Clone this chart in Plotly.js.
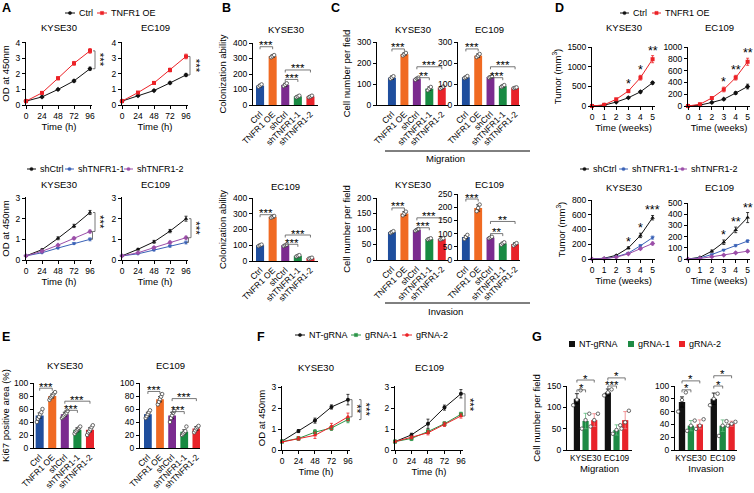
<!DOCTYPE html>
<html><head><meta charset="utf-8">
<script src="https://cdn.plot.ly/plotly-3.0.1.min.js"></script>
<style>html,body{margin:0;padding:0;background:#fff}#chart{width:754px;height:493px}</style>
</head><body><div id="chart"></div>
<script>
// ---------------- DATA ----------------
const hours=[0,24,48,72,96];
const weeks=[0,1,2,3,4,5];
const groups=['Ctrl','TNFR1 OE','shCtrl','shTNFR1-1','shTNFR1-2'];
const cells=['KYSE30','EC109'];

// A: OD at 450nm
const aK_ctrl=[0.25,0.52,1.0,1.55,2.33], aK_ctrl_err=[0.03,0.05,0.05,0.08,0.1];
const aK_oe=[0.25,0.78,1.72,2.68,3.48], aK_oe_err=[0.03,0.07,0.1,0.12,0.15];
const aE_ctrl=[0.25,0.6,0.93,1.42,1.93], aE_ctrl_err=[0.03,0.05,0.05,0.07,0.1];
const aE_oe=[0.25,0.8,1.42,2.25,3.12], aE_oe_err=[0.03,0.06,0.08,0.12,0.15];
const aK_sh=[0.2,0.5,1.05,1.65,2.3], aK_sh_err=[0.02,0.04,0.07,0.08,0.1];
const aK_sh1=[0.2,0.35,0.58,0.8,1.0], aK_sh1_err=[0.02,0.03,0.04,0.05,0.07];
const aK_sh2=[0.2,0.42,0.72,1.05,1.38], aK_sh2_err=[0.02,0.03,0.04,0.06,0.07];
const aE_sh=[0.2,0.52,0.88,1.4,2.0], aE_sh_err=[0.02,0.04,0.07,0.08,0.12];
const aE_sh1=[0.2,0.3,0.48,0.68,0.85], aE_sh1_err=[0.02,0.03,0.04,0.06,0.07];
const aE_sh2=[0.2,0.35,0.6,0.85,1.08], aE_sh2_err=[0.02,0.03,0.04,0.06,0.07];

// B: colonization ability
const bK=[125,315,130,55,55], bK_err=[8,8,10,6,6];
const bK_pts=[[118,125,133],[308,315,322],[122,130,140],[50,55,60],[50,55,60]];
const bE=[100,280,100,33,18], bE_err=[5,6,5,4,3];
const bE_pts=[[95,100,104],[275,280,286],[95,100,104],[28,33,37],[15,18,21]];

// C: cell number per field
const cMK=[130,242,125,78,83], cMK_err=[8,6,5,8,5];
const cMK_pts=[[125,130,137],[236,242,248],[120,126,130],[70,78,86],[78,83,88]];
const cME=[132,235,133,90,82], cME_err=[5,8,4,5,3];
const cME_pts=[[128,132,138],[228,235,243],[130,133,137],[86,90,95],[80,82,84]];
const cIK=[90,150,97,68,68], cIK_err=[3,6,3,2,2];
const cIK_pts=[[87,90,93],[144,150,156],[94,97,100],[66,68,70],[66,68,70]];
const cIE=[87,197,85,63,60], cIE_err=[6,12,3,4,5];
const cIE_pts=[[80,87,95],[185,197,210],[82,85,88],[58,63,67],[55,60,64]];

// D: tumor volume (mm3)
const dK_ctrl=[0,20,100,210,360,590], dK_ctrl_err=[0,8,15,20,30,35];
const dK_oe=[0,30,170,380,720,1190], dK_oe_err=[0,10,25,40,60,90];
const dE_ctrl=[0,15,60,115,220,330], dE_ctrl_err=[0,5,10,15,25,40];
const dE_oe=[0,30,135,280,480,750], dE_oe_err=[0,8,15,40,40,60];
const dK_sh=[0,10,50,150,320,560], dK_sh_err=[0,3,8,15,30,30];
const dK_sh1=[0,5,30,80,180,290], dK_sh1_err=[0,2,5,10,15,20];
const dK_sh2=[0,5,25,70,140,210], dK_sh2_err=[0,2,5,8,12,20];
const dE_sh=[0,15,70,150,260,370], dE_sh_err=[0,5,10,20,25,45];
const dE_sh1=[0,10,40,80,120,160], dE_sh1_err=[0,3,5,8,10,12];
const dE_sh2=[0,5,20,35,55,70], dE_sh2_err=[0,2,3,5,5,8];

// E: Ki67 positive area (%)
const eK=[50,80,52,28,28], eK_err=[4,3,3,3,3];
const eK_pts=[[40,45,48,52,55,60],[74,77,79,81,84,86],[46,48,50,52,54,57],[22,25,27,29,31,33],[20,24,26,29,32,35]];
const eE=[52,75,50,25,30], eE_err=[3,4,5,3,3];
const eE_pts=[[46,49,52,55,58],[67,71,75,79,83],[40,46,50,54,57],[20,22,24,26,33],[24,27,30,32,34]];

// F: OD at 450nm (gRNA)
const fK_nt=[0.42,0.9,1.4,2.05,2.4], fK_nt_err=[0.03,0.07,0.12,0.1,0.25];
const fK_g1=[0.4,0.55,0.85,1.05,1.45], fK_g1_err=[0.03,0.08,0.12,0.12,0.15];
const fK_g2=[0.38,0.55,0.7,1.12,1.58], fK_g2_err=[0.03,0.08,0.15,0.15,0.18];
const fE_nt=[0.4,0.72,1.25,2.02,2.68], fE_nt_err=[0.03,0.08,0.22,0.12,0.2];
const fE_g1=[0.4,0.55,0.88,1.25,1.7], fE_g1_err=[0.03,0.1,0.1,0.1,0.1];
const fE_g2=[0.4,0.6,0.82,1.22,1.62], fE_g2_err=[0.03,0.07,0.1,0.1,0.1];

// G: cell number per field (gRNA)
const gMig_nt=[120,135], gMig_nt_err=[12,8], gMig_nt_pts=[[105,118,140],[128,135,142]];
const gMig_g1=[68,47], gMig_g1_err=[18,12], gMig_g1_pts=[[50,70,85],[38,47,58]];
const gMig_g2=[70,70], gMig_g2_err=[15,20], gMig_g2_pts=[[55,70,85],[50,65,92]];
const gInv_nt=[75,80], gInv_nt_err=[8,9], gInv_nt_pts=[[60,78,90],[70,80,88]];
const gInv_g1=[38,38], gInv_g1_err=[8,9], gInv_g1_pts=[[30,38,46],[22,38,45]];
const gInv_g2=[40,41], gInv_g2_err=[7,4], gInv_g2_pts=[[33,38,48],[38,41,44]];

// significance
const sigB1=[[0,1,376,'***'],[2,3,165,'***'],[2,4,226,'***']];
const sigB2=[[0,1,294,'***'],[2,3,106,'***'],[2,4,165,'***']];
const sigC1=[[0,1,267,'***'],[2,3,130,'**'],[2,4,182,'***']];
const sigC2=[[0,1,267,'***'],[2,3,130,'***'],[2,4,182,'***']];
const sigC3=[[0,1,168,'***'],[2,3,104,'***'],[2,4,136,'***']];
const sigC4=[[0,1,231,'***'],[2,3,100,'**'],[2,4,146,'**']];
const sigE1=[[0,1,92,'***'],[2,3,58,'***'],[2,4,72,'***']];
const sigE2=[[0,1,87,'***'],[2,3,56,'***'],[2,4,76,'***']];
const sigD1=['*','*','**'], sigD2=['*','**','**'], sigD3=['*','*','***'], sigD4=['*','**','**'];
const sigGm=[[0,1,141,'*'],[0,2,164,'*'],[1,1,150,'***'],[1,2,169,'*']];
const sigGi=[[0,1,94,'*'],[0,2,108,'*'],[1,1,100,'*'],[1,2,116,'*']];

// ---------------- STYLE / HELPERS ----------------
const W=754,H=493;
const FONT='Liberation Sans, Arial, Helvetica, sans-serif';
const RED='#ec2227',BLUE='#3a62b7',PURP='#9b4ea8',GREEN='#2a9447',BLACK='#111';
const BARC=['#1f4e9d','#f06a22','#7b2b8f','#188a42','#e8232a'];
const fx=p=>p/W, fy=p=>1-p/H;
const layout={width:W,height:H,margin:{l:0,r:0,t:0,b:0},showlegend:false,barmode:'overlay',
  paper_bgcolor:'#fff',plot_bgcolor:'rgba(0,0,0,0)',font:{family:FONT,size:9,color:'#000'},
  shapes:[],annotations:[]};
const data=[];
let nAx=0;
function makeAxes(s){
  nAx++; const k=nAx===1?'':nAx;
  const base={showline:true,linecolor:'#000',linewidth:1,ticks:'outside',ticklen:3,tickwidth:1,tickcolor:'#000',
    showgrid:false,zeroline:false,fixedrange:true,tickfont:{size:8.5,family:FONT,color:'#000'}};
  layout['xaxis'+k]=Object.assign({},base,{domain:[fx(s.x0),fx(s.x1)],anchor:'y'+k,range:s.xr},s.xo||{});
  layout['yaxis'+k]=Object.assign({},base,{domain:[fy(s.yB),fy(s.yT)],anchor:'x'+k,range:s.yr},s.yo||{});
  s.xa='x'+k; s.ya='y'+k;
  s.px=v=>s.x0+(v-s.xr[0])/(s.xr[1]-s.xr[0])*(s.x1-s.x0);
  s.py=v=>s.yB-(v-s.yr[0])/(s.yr[1]-s.yr[0])*(s.yB-s.yT);
  return s;
}
function ann(xp,yp,text,o){layout.annotations.push(Object.assign({xref:'paper',yref:'paper',x:fx(xp),y:fy(yp),text:text,showarrow:false,
  font:{size:9.5,family:FONT,color:'#000'},xanchor:'center',yanchor:'middle'},o||{}));}
function seg(x0,y0,x1,y1,color,w){layout.shapes.push({type:'line',xref:'paper',yref:'paper',x0:fx(x0),y0:fy(y0),x1:fx(x1),y1:fy(y1),line:{color:color||'#000',width:w||1}});}
function path(pts,color){layout.shapes.push({type:'path',xref:'paper',yref:'paper',
  path:'M'+pts.map(p=>fx(p[0])+','+fy(p[1])).join(' L'),line:{color:color||'#000',width:0.8}});}
function ytitle(t){return {text:t,font:{size:9.5,family:FONT},standoff:4};}

function lineAxes(x0,x1,yT,yB,xr,yr,dtick,xt,yt,title,ticks,ty){
  const yo={dtick:dtick,tick0:0}; if(yt) yo.title=ytitle(yt);
  const s=makeAxes({x0,x1,yT,yB,xr,yr,xo:{tickvals:ticks,tickangle:0,title:{text:xt,font:{size:9.5,family:FONT},standoff:2}},yo});
  ann((x0+x1)/2,ty,title);
  return s;
}
function barAxes(x0,x1,yT,yB,xr,yr,dtick,yt,title,ty){
  const yo={dtick:dtick,tick0:0}; if(yt) yo.title=ytitle(yt);
  const s=makeAxes({x0,x1,yT,yB,xr,yr,xo:{tickvals:[0,1,2,3,4],ticktext:groups,tickangle:-45,ticks:'',tickfont:{size:8.5,family:FONT}},yo});
  ann((x0+x1)/2,ty,title);
  return s;
}
function lineSeries(s,xs,ys,err,color,symbol){
  data.push({type:'scatter',mode:'lines+markers',x:xs,y:ys,xaxis:s.xa,yaxis:s.ya,cliponaxis:false,
    line:{color:color,width:1},marker:{color:color,size:4,symbol:symbol},
    error_y:{type:'data',array:err,visible:true,color:color,thickness:0.8,width:1.5}});
}
function dots(s,xs,pts){
  const dx=[],dy=[];
  pts.forEach((arr,i)=>{const sp=arr.length>3?0.09:0.12;arr.forEach((v,j)=>{dx.push(xs[i]+(j-(arr.length-1)/2)*sp);dy.push(v);});});
  data.push({type:'scatter',mode:'markers',x:dx,y:dy,xaxis:s.xa,yaxis:s.ya,cliponaxis:false,
    marker:{size:3.5,color:'#fff',line:{color:'#444',width:0.8}}});
}
function barChart(s,means,errs,pts,w){
  const idx=means.map((_,i)=>i);
  data.push({type:'bar',x:idx,y:means,width:w||0.64,xaxis:s.xa,yaxis:s.ya,marker:{color:BARC,line:{width:0}},
    error_y:{type:'data',array:errs,visible:true,color:'#000',thickness:0.8,width:2}});
  dots(s,idx,pts);
}
const STAR={size:11.5,family:FONT,color:'#000'};
function sigH(s,x0v,x1v,v,stars){
  const x0=s.px(x0v),x1=s.px(x1v),y=s.py(v);
  path([[x0,y+2.5],[x0,y],[x1,y],[x1,y+2.5]],'#555');
  ann((x0+x1)/2,y-1.5,stars,{font:STAR});
}
function sigV(s,xp,v1,v2,color){
  const y1=s.py(v1),y2=s.py(v2);
  path([[xp-2,y1],[xp,y1],[xp,y2],[xp-2,y2]],color||'#555');
}
function starsV(s,xp,v1,v2,stars){ann(xp,(s.py(v1)+s.py(v2))/2,stars,{textangle:90,font:STAR});}
function legLine(x0,x1,y,color,label,mk){
  seg(x0,y,x1,y,color,1);
  const c=(x0+x1)/2;
  layout.shapes.push({type:mk==='sq'?'rect':'circle',xref:'paper',yref:'paper',x0:fx(c-1.6),x1:fx(c+1.6),y0:fy(y+1.6),y1:fy(y-1.6),fillcolor:color,line:{color:color,width:0.5}});
  ann(x1+2,y,label,{xanchor:'left',font:{size:9,family:FONT,color:'#000'}});
}
function legBox(x,y,color,label){
  layout.shapes.push({type:'rect',xref:'paper',yref:'paper',x0:fx(x-3),x1:fx(x+3),y0:fy(y+3),y1:fy(y-3),fillcolor:color,line:{width:0}});
  ann(x+5,y,label,{xanchor:'left',font:{size:9,family:FONT,color:'#000'}});
}
function letter(x,y,t){ann(x,y,'<b>'+t+'</b>',{font:{size:12.5,family:FONT,color:'#000'}});}

// ---------------- PANEL A ----------------
letter(6,8,'A');
legLine(65,75,13,BLACK,'Ctrl'); legLine(97,107,13,RED,'TNFR1 OE','sq');
const sA1=lineAxes(26,92,42,105,[0,99],[0,4.05],1,'Time (h)','OD at 450nm','KYSE30',hours,28);
lineSeries(sA1,hours,aK_ctrl,aK_ctrl_err,BLACK,'diamond'); lineSeries(sA1,hours,aK_oe,aK_oe_err,RED,'square');
sigV(sA1,95,aK_ctrl[4],aK_oe[4]); starsV(sA1,100,aK_ctrl[4],aK_oe[4],'***');
const sA2=lineAxes(122,188,42,105,[0,99],[0,4.05],1,'Time (h)',null,'EC109',hours,28);
lineSeries(sA2,hours,aE_ctrl,aE_ctrl_err,BLACK,'diamond'); lineSeries(sA2,hours,aE_oe,aE_oe_err,RED,'square');
sigV(sA2,190,aE_ctrl[4],aE_oe[4]); starsV(sA2,196,aE_ctrl[4],aE_oe[4],'***');

legLine(27,36,169,BLACK,'shCtrl'); legLine(65,74,169,BLUE,'shTNFR1-1'); legLine(124,133,169,PURP,'shTNFR1-2');
const sA3=lineAxes(26,92,197,260,[0,99],[0,3.05],1,'Time (h)','OD at 450nm','KYSE30',hours,185);
lineSeries(sA3,hours,aK_sh,aK_sh_err,BLACK,'triangle-up'); lineSeries(sA3,hours,aK_sh1,aK_sh1_err,BLUE,'triangle-down'); lineSeries(sA3,hours,aK_sh2,aK_sh2_err,PURP,'diamond');
sigV(sA3,95,aK_sh[4],aK_sh2[4]); sigV(sA3,92.5,aK_sh2[4],aK_sh1[4]); starsV(sA3,100,aK_sh[4],aK_sh2[4],'***');
const sA4=lineAxes(122,188,197,260,[0,99],[0,3.05],1,'Time (h)',null,'EC109',hours,185);
lineSeries(sA4,hours,aE_sh,aE_sh_err,BLACK,'triangle-up'); lineSeries(sA4,hours,aE_sh1,aE_sh1_err,BLUE,'triangle-down'); lineSeries(sA4,hours,aE_sh2,aE_sh2_err,PURP,'diamond');
sigV(sA4,191,aE_sh[4],aE_sh2[4]); sigV(sA4,188.5,aE_sh2[4],aE_sh1[4]); starsV(sA4,196,aE_sh[4],aE_sh2[4],'***');

// ---------------- PANEL B ----------------
letter(226,8,'B');
const sB1=barAxes(253,318,43,105,[-0.56,4.6],[0,400],100,'Colonization ability','KYSE30',29);
barChart(sB1,bK,bK_err,bK_pts); sigB1.forEach(g=>sigH(sB1,g[0],g[1],g[2],g[3]));
const sB2=barAxes(253,318,198,261,[-0.56,4.6],[0,400],100,'Colonization ability','EC109',186);
barChart(sB2,bE,bE_err,bE_pts); sigB2.forEach(g=>sigH(sB2,g[0],g[1],g[2],g[3]));

// ---------------- PANEL C ----------------
letter(335,8,'C');
const sC1=barAxes(377,448,42,105,[-1.2,4.5],[0,300],100,'Cell number per field','KYSE30',29);
barChart(sC1,cMK,cMK_err,cMK_pts); sigC1.forEach(g=>sigH(sC1,g[0],g[1],g[2],g[3]));
const sC2=barAxes(458,520,42,105,[-0.64,4.4],[0,300],100,null,'EC109',29);
barChart(sC2,cME,cME_err,cME_pts); sigC2.forEach(g=>sigH(sC2,g[0],g[1],g[2],g[3]));
seg(385,151,530,151,'#000',1); ann(445,158,'Migration');
const sC3=barAxes(377,448,198,260,[-1.2,4.5],[0,200],50,'Cell number per field','KYSE30',185);
barChart(sC3,cIK,cIK_err,cIK_pts); sigC3.forEach(g=>sigH(sC3,g[0],g[1],g[2],g[3]));
const sC4=barAxes(458,520,194,260,[-0.64,4.4],[0,250],50,null,'EC109',185);
barChart(sC4,cIE,cIE_err,cIE_pts); sigC4.forEach(g=>sigH(sC4,g[0],g[1],g[2],g[3]));
seg(385,303,530,303,'#000',1); ann(445,311,'Invasion');

// ---------------- PANEL D ----------------
letter(559,8,'D');
legLine(620,629,13,BLACK,'Ctrl'); legLine(652,661,13,RED,'TNFR1 OE','sq');
function dStars(s,ref,err,st){st.forEach((t,i)=>{const w=3+i;ann(s.px(w),s.py(ref[w]+err[w])-5,t,{font:{size:12.5,family:FONT,color:'#000'}});});}
const sD1=lineAxes(592,655,47,106,[0,5.2],[0,1500],500,'Time (weeks)','Tumor (mm<sup>3</sup>)','KYSE30',weeks,28);
lineSeries(sD1,weeks,dK_ctrl,dK_ctrl_err,BLACK,'diamond'); lineSeries(sD1,weeks,dK_oe,dK_oe_err,RED,'square');
dStars(sD1,dK_oe,dK_oe_err,sigD1);
const sD2=lineAxes(688,750,47,106,[0,5.2],[0,1000],200,'Time (weeks)',null,'EC109',weeks,28);
lineSeries(sD2,weeks,dE_ctrl,dE_ctrl_err,BLACK,'diamond'); lineSeries(sD2,weeks,dE_oe,dE_oe_err,RED,'square');
dStars(sD2,dE_oe,dE_oe_err,sigD2);
legLine(580,589,169,BLACK,'shCtrl'); legLine(619,628,169,BLUE,'shTNFR1-1'); legLine(678,687,169,PURP,'shTNFR1-2');
const sD3=lineAxes(592,655,200,259,[0,5.2],[0,800],200,'Time (weeks)','Tumor (mm<sup>3</sup>)','KYSE30',weeks,188);
lineSeries(sD3,weeks,dK_sh,dK_sh_err,BLACK,'triangle-up'); lineSeries(sD3,weeks,dK_sh1,dK_sh1_err,BLUE,'triangle-down'); lineSeries(sD3,weeks,dK_sh2,dK_sh2_err,PURP,'diamond');
dStars(sD3,dK_sh,dK_sh_err,sigD3);
const sD4=lineAxes(688,750,203,259,[0,5.2],[0,500],100,'Time (weeks)',null,'EC109',weeks,188);
lineSeries(sD4,weeks,dE_sh,dE_sh_err,BLACK,'triangle-up'); lineSeries(sD4,weeks,dE_sh1,dE_sh1_err,BLUE,'triangle-down'); lineSeries(sD4,weeks,dE_sh2,dE_sh2_err,PURP,'diamond');
dStars(sD4,dE_sh,dE_sh_err,sigD4);

// ---------------- PANEL E ----------------
letter(6,337,'E');
const sE1=barAxes(34,95,383,448,[-0.45,4.4],[0,100],20,'Ki67 positive area (%)','KYSE30',365);
barChart(sE1,eK,eK_err,eK_pts); sigE1.forEach(g=>sigH(sE1,g[0],g[1],g[2],g[3]));
const sE2=barAxes(140,200,383,448,[-0.65,4.3],[0,100],20,null,'EC109',365);
barChart(sE2,eE,eE_err,eE_pts); sigE2.forEach(g=>sigH(sE2,g[0],g[1],g[2],g[3]));

// ---------------- PANEL F ----------------
letter(261,337,'F');
legLine(295,305,335,BLACK,'NT-gRNA'); legLine(351,361,335,GREEN,'gRNA-1','sq'); legLine(402,412,335,RED,'gRNA-2');
const sF1=lineAxes(282,350,386,450,[0,99],[0,3.05],1,'Time (h)','OD at 450nm','KYSE30',hours,367);
lineSeries(sF1,hours,fK_nt,fK_nt_err,BLACK,'circle'); lineSeries(sF1,hours,fK_g1,fK_g1_err,GREEN,'square'); lineSeries(sF1,hours,fK_g2,fK_g2_err,RED,'triangle-up');
sigV(sF1,352,fK_nt[4],fK_g2[4]); starsV(sF1,357,fK_nt[4],fK_g2[4],'**');
sigV(sF1,361,fK_nt[4],fK_g1[4]); starsV(sF1,366,fK_nt[4],fK_g1[4],'***');
const sF2=lineAxes(395,463,386,450,[0,99],[0,3.05],1,'Time (h)',null,'EC109',hours,367);
lineSeries(sF2,hours,fE_nt,fE_nt_err,BLACK,'circle'); lineSeries(sF2,hours,fE_g1,fE_g1_err,GREEN,'square'); lineSeries(sF2,hours,fE_g2,fE_g2_err,RED,'triangle-up');
sigV(sF2,465,fE_nt[4],fE_g2[4]); starsV(sF2,470,fE_nt[4],fE_g2[4],'***');

// ---------------- PANEL G ----------------
letter(537,337,'G');
legBox(572,344,BLACK,'NT-gRNA'); legBox(631,344,'#1e8a44','gRNA-1'); legBox(682,344,RED,'gRNA-2');
const GOFF=0.28, GW=0.2;
function gAxes(x0,x1,xr,yr,dtick,xt,yt){
  const yo={dtick:dtick,tick0:0}; if(yt) yo.title=ytitle(yt);
  return makeAxes({x0,x1,yT:386,yB:450,xr,yr,xo:{tickvals:[0,1],ticktext:cells,tickangle:0,ticks:'',tickfont:{size:8.3,family:FONT},title:{text:xt,font:{size:9.5,family:FONT},standoff:2}},yo});
}
function gBars(s,sets){
  sets.forEach((d,k)=>{
    const xs=cells.map((_,i)=>i+(k-1)*GOFF);
    data.push({type:'bar',x:xs,y:d[0],width:GW,xaxis:s.xa,yaxis:s.ya,marker:{color:d[3]},
      error_y:{type:'data',array:d[1],visible:true,color:d[4],thickness:0.8,width:2}});
    dots(s,xs,d[2]);
  });
}
function gSig(s,list){list.forEach(g=>sigH(s,g[0]-GOFF,g[0]+(g[1]-1)*GOFF,g[2],g[3]));}
const sG1=gAxes(567,632,[-0.6,1.5],[0,150],50,'Migration','Cell number per field');
gBars(sG1,[[gMig_nt,gMig_nt_err,gMig_nt_pts,BLACK,'#000'],[gMig_g1,gMig_g1_err,gMig_g1_pts,'#1e8a44','#5cb87a'],[gMig_g2,gMig_g2_err,gMig_g2_pts,'#e8232a','#f07a7d']]);
gSig(sG1,sigGm);
const sG2=gAxes(675,737,[-0.5,1.45],[0,100],20,'Invasion',null);
gBars(sG2,[[gInv_nt,gInv_nt_err,gInv_nt_pts,BLACK,'#000'],[gInv_g1,gInv_g1_err,gInv_g1_pts,'#1e8a44','#5cb87a'],[gInv_g2,gInv_g2_err,gInv_g2_pts,'#e8232a','#f07a7d']]);
gSig(sG2,sigGi);

Plotly.newPlot('chart',data,layout,{staticPlot:true,displayModeBar:false});
</script></body></html>
